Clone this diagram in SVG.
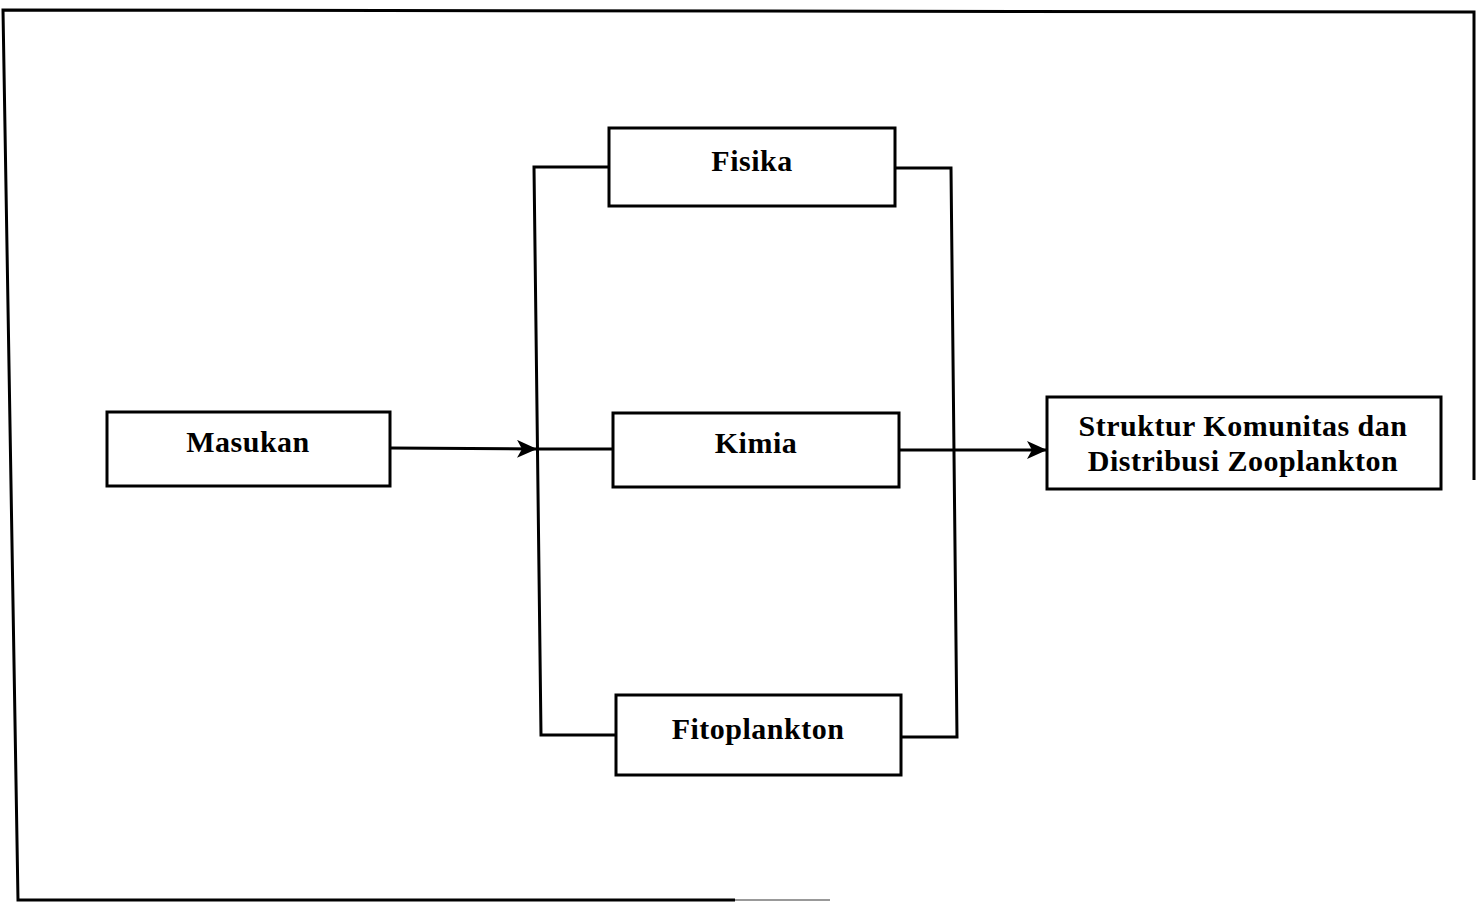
<svg xmlns="http://www.w3.org/2000/svg" width="1476" height="903" viewBox="0 0 1476 903">
<style>
.box{fill:#fff;stroke:#000;stroke-width:3}
.ln{fill:none;stroke:#000;stroke-width:3}
.t{font-family:"Liberation Serif",serif;font-weight:bold;font-size:30px;letter-spacing:0.5px;fill:#000;text-anchor:middle}
</style>
<defs>
<marker id="ah" viewBox="0 0 20 18" refX="20" refY="9" markerWidth="20" markerHeight="18" markerUnits="userSpaceOnUse" orient="auto">
<path d="M0,0 L20,9 L0,18 L5,9 Z" fill="#000"/>
</marker>
</defs>
<rect width="1476" height="903" fill="#fff"/>
<g id="frame">
<path class="ln" d="M1474,480 L1474,12 L3,10 L18,900 L735,900"/>
<path d="M735,900 L830,900" stroke="#999" stroke-width="2"/>
</g>
<g id="connectors">
<path class="ln" d="M609,167 L534,167 L541,735 L616,735"/>
<path class="ln" d="M895,168 L951,168 L957,737 L901,737"/>
<path class="ln" d="M390,448 L537,449" marker-end="url(#ah)"/>
<path class="ln" d="M537,449 L613,449"/>
<path class="ln" d="M899,450 L1047,450" marker-end="url(#ah)"/>
</g>
<g id="masukan">
<rect class="box" x="107" y="412" width="283" height="74"/>
<text class="t" x="248" y="452">Masukan</text>
</g>
<g id="fisika">
<rect class="box" x="609" y="128" width="286" height="78"/>
<text class="t" x="752" y="171">Fisika</text>
</g>
<g id="kimia">
<rect class="box" x="613" y="413" width="286" height="74"/>
<text class="t" x="756" y="453">Kimia</text>
</g>
<g id="fitoplankton">
<rect class="box" x="616" y="695" width="285" height="80"/>
<text class="t" x="758" y="739">Fitoplankton</text>
</g>
<g id="struktur">
<rect class="box" x="1047" y="397" width="394" height="92"/>
<text class="t" x="1243" y="436">Struktur Komunitas dan</text>
<text class="t" x="1243" y="471">Distribusi Zooplankton</text>
</g>
</svg>
